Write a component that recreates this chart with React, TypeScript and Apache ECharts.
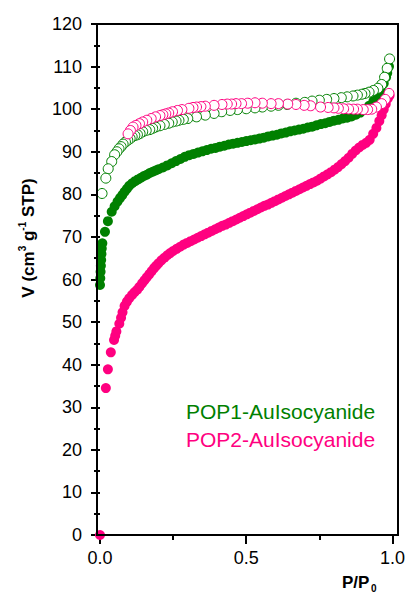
import React, { useEffect, useRef } from 'react';
import * as echarts from 'echarts';

const GREEN = '#008000';
const PINK = '#ff0080';
const FONT = '"Liberation Sans", Arial, sans-serif';

// POP1-AuIsocyanide adsorption (filled)
const pop1AdsP = [0.000, 0.001, 0.002, 0.003, 0.004, 0.005, 0.006, 0.008, 0.017, 0.027, 0.040, 0.050, 0.060, 0.068, 0.076, 0.084, 0.092, 0.100, 0.110, 0.120, 0.130, 0.140, 0.150, 0.160, 0.170, 0.180, 0.190, 0.200, 0.215, 0.230, 0.245, 0.260, 0.275, 0.290, 0.305, 0.320, 0.335, 0.350, 0.365, 0.380, 0.395, 0.410, 0.425, 0.440, 0.455, 0.470, 0.485, 0.500, 0.515, 0.530, 0.545, 0.560, 0.575, 0.590, 0.605, 0.620, 0.635, 0.650, 0.665, 0.680, 0.695, 0.710, 0.725, 0.740, 0.755, 0.770, 0.785, 0.800, 0.815, 0.830, 0.845, 0.860, 0.875, 0.890, 0.905, 0.920, 0.935, 0.950, 0.960, 0.970, 0.978, 0.982, 0.988];
const pop1AdsV = [58.7, 60.3, 61.8, 63.2, 64.6, 66.0, 67.3, 68.5, 71.2, 73.7, 75.9, 77.2, 78.3, 79.1, 79.8, 80.6, 81.3, 82.0, 82.6, 83.1, 83.5, 83.9, 84.3, 84.6, 85.0, 85.3, 85.6, 85.9, 86.3, 86.8, 87.3, 87.8, 88.3, 88.8, 89.2, 89.5, 89.8, 90.1, 90.4, 90.7, 90.9, 91.2, 91.4, 91.7, 91.9, 92.1, 92.3, 92.5, 92.7, 92.9, 93.1, 93.3, 93.6, 93.8, 94.0, 94.3, 94.5, 94.8, 95.0, 95.2, 95.4, 95.7, 95.9, 96.2, 96.5, 96.7, 97.0, 97.3, 97.5, 97.8, 98.0, 98.3, 98.7, 99.2, 99.9, 100.8, 101.9, 103.2, 104.5, 106.0, 107.5, 108.5, 110.0];

// POP1-AuIsocyanide desorption (open)
const pop1DesP = [0.990, 0.982, 0.973, 0.963, 0.950, 0.935, 0.920, 0.906, 0.895, 0.880, 0.865, 0.845, 0.825, 0.800, 0.775, 0.750, 0.725, 0.700, 0.670, 0.640, 0.610, 0.585, 0.555, 0.530, 0.500, 0.470, 0.445, 0.416, 0.390, 0.360, 0.330, 0.300, 0.285, 0.270, 0.260, 0.247, 0.235, 0.220, 0.205, 0.190, 0.180, 0.170, 0.158, 0.146, 0.137, 0.128, 0.119, 0.110, 0.103, 0.095, 0.087, 0.079, 0.072, 0.065, 0.058, 0.050, 0.040, 0.028, 0.020, 0.007];
const pop1DesV = [111.8, 109.6, 107.5, 105.8, 104.9, 104.4, 104.0, 103.7, 103.5, 103.3, 103.1, 102.9, 102.7, 102.5, 102.3, 102.1, 101.9, 101.6, 101.4, 101.1, 100.9, 100.7, 100.5, 100.3, 100.1, 99.9, 99.7, 99.4, 99.0, 98.6, 98.2, 97.8, 97.6, 97.4, 97.2, 97.0, 96.7, 96.4, 96.1, 95.8, 95.5, 95.2, 95.0, 94.7, 94.3, 94.0, 93.8, 93.5, 93.1, 92.7, 92.3, 91.8, 91.2, 90.7, 90.0, 89.3, 87.7, 86.0, 83.8, 80.2];

// POP2-AuIsocyanide adsorption (filled)
const pop2AdsP = [0.000, 0.020, 0.027, 0.037, 0.048, 0.052, 0.056, 0.066, 0.072, 0.077, 0.084, 0.092, 0.100, 0.110, 0.118, 0.127, 0.135, 0.144, 0.152, 0.160, 0.168, 0.176, 0.184, 0.192, 0.200, 0.210, 0.220, 0.230, 0.240, 0.250, 0.262, 0.274, 0.286, 0.298, 0.310, 0.322, 0.334, 0.346, 0.358, 0.370, 0.382, 0.394, 0.406, 0.418, 0.430, 0.442, 0.454, 0.466, 0.478, 0.490, 0.502, 0.514, 0.526, 0.538, 0.550, 0.562, 0.574, 0.586, 0.598, 0.610, 0.622, 0.634, 0.646, 0.658, 0.670, 0.682, 0.694, 0.706, 0.718, 0.730, 0.742, 0.754, 0.766, 0.778, 0.790, 0.802, 0.814, 0.826, 0.838, 0.850, 0.862, 0.874, 0.886, 0.898, 0.910, 0.922, 0.934, 0.945, 0.955, 0.963, 0.970, 0.977, 0.984, 0.990];
const pop2AdsV = [0.0, 34.5, 38.9, 42.9, 45.8, 46.8, 47.8, 49.6, 51.0, 52.3, 53.8, 54.8, 55.6, 56.4, 57.0, 57.6, 58.3, 59.1, 59.8, 60.5, 61.2, 61.9, 62.6, 63.2, 63.8, 64.5, 65.1, 65.7, 66.2, 66.7, 67.2, 67.7, 68.2, 68.6, 69.0, 69.4, 69.8, 70.2, 70.6, 71.0, 71.4, 71.8, 72.2, 72.6, 72.9, 73.3, 73.7, 74.1, 74.5, 74.9, 75.3, 75.7, 76.1, 76.5, 76.9, 77.3, 77.6, 78.0, 78.4, 78.8, 79.2, 79.6, 80.0, 80.4, 80.8, 81.2, 81.6, 82.0, 82.4, 82.8, 83.2, 83.7, 84.2, 84.7, 85.2, 85.8, 86.4, 87.1, 87.8, 88.6, 89.5, 90.3, 91.0, 91.6, 92.1, 92.8, 94.2, 95.6, 97.2, 98.6, 99.9, 101.2, 102.5, 103.2];

// POP2-AuIsocyanide desorption (open)
const pop2DesP = [0.988, 0.975, 0.963, 0.945, 0.929, 0.915, 0.900, 0.880, 0.867, 0.850, 0.833, 0.815, 0.800, 0.780, 0.754, 0.720, 0.698, 0.670, 0.642, 0.610, 0.585, 0.555, 0.530, 0.505, 0.484, 0.465, 0.450, 0.435, 0.417, 0.390, 0.360, 0.345, 0.330, 0.318, 0.304, 0.280, 0.265, 0.248, 0.235, 0.225, 0.215, 0.205, 0.190, 0.175, 0.160, 0.146, 0.135, 0.123, 0.113, 0.104, 0.096];
const pop2DesV = [103.7, 102.3, 101.3, 100.5, 100.0, 99.9, 99.9, 100.0, 100.0, 100.05, 100.1, 100.2, 100.3, 100.4, 100.5, 100.8, 100.9, 101.1, 101.2, 101.3, 101.3, 101.4, 101.5, 101.4, 101.3, 101.3, 101.2, 101.2, 101.1, 100.9, 100.7, 100.6, 100.5, 100.4, 100.2, 99.9, 99.7, 99.4, 99.1, 98.9, 98.7, 98.5, 98.2, 97.8, 97.4, 97.0, 96.6, 96.2, 95.8, 95.0, 94.2];

const xTickLabels = ['0.0', '0.5', '1.0'];
const legendLabels = ['POP1-AuIsocyanide', 'POP2-AuIsocyanide'];

const zip = (p: number[], v: number[]) => p.map((x, i) => [x, v[i]]);

export default function App() {
  const ref = useRef<HTMLDivElement>(null);
  useEffect(() => {
    const chart = echarts.init(ref.current!, null, { renderer: 'svg' });
    const filled = (name: string, color: string, data: number[][]) => ({
      name, type: 'scatter', data, symbol: 'circle', symbolSize: 10, clip: false,
      itemStyle: { color, opacity: 1 },
    });
    const open = (name: string, color: string, data: number[][]) => ({
      name, type: 'scatter', data, symbol: 'circle', symbolSize: 10, clip: false,
      itemStyle: { color: '#ffffff', borderColor: color, borderWidth: 1, opacity: 1 },
    });
    chart.setOption({
      animation: false,
      backgroundColor: '#ffffff',
      grid: { left: 100, right: 12, top: 24, bottom: 58, containLabel: false },
      xAxis: {
        type: 'value', min: 0, max: 1, interval: 0.5,
        axisLine: { show: false },
        splitLine: { show: false },
        axisTick: { show: true, inside: false, length: 9, lineStyle: { color: '#000', width: 2 } },
        minorTick: { show: true, splitNumber: 2, length: 5, lineStyle: { color: '#000', width: 2 } },
        axisLabel: {
          margin: 14, color: '#000', fontSize: 18, fontFamily: FONT,
          formatter: (v: number) => xTickLabels[Math.round(v * 2)] ?? '',
        },
      },
      yAxis: {
        type: 'value', min: 0, max: 120, interval: 10, offset: 3,
        axisLine: { show: false },
        splitLine: { show: false },
        axisTick: { show: true, inside: false, length: 9, lineStyle: { color: '#000', width: 2 } },
        minorTick: { show: true, splitNumber: 2, length: 6, lineStyle: { color: '#000', width: 2 } },
        axisLabel: { margin: 15, color: '#000', fontSize: 18, fontFamily: FONT },
      },
      series: [
        filled(legendLabels[0] + ' ads', GREEN, zip(pop1AdsP, pop1AdsV)),
        filled(legendLabels[1] + ' ads', PINK, zip(pop2AdsP, pop2AdsV)),
        open(legendLabels[0] + ' des', GREEN, zip(pop1DesP, pop1DesV)),
        open(legendLabels[1] + ' des', PINK, zip(pop2DesP, pop2DesV)),
      ],
      graphic: [
        {
          type: 'rect', z: 100, silent: true,
          shape: { x: 97, y: 24, width: 301, height: 511 },
          style: { fill: 'none', stroke: '#000', lineWidth: 2 },
        },
        {
          type: 'text', x: 27, y: 238, rotation: Math.PI / 2, z: 100,
          style: {
            text: '{b|V (cm}{s|3}{b| g}{s|-1}{b| STP)}',
            align: 'center', verticalAlign: 'middle',
            rich: {
              b: { fontSize: 17, fontWeight: 'bold', fontFamily: FONT, fill: '#000', lineHeight: 20, verticalAlign: 'bottom' },
              s: { fontSize: 10, fontWeight: 'bold', fontFamily: FONT, fill: '#000', lineHeight: 10, verticalAlign: 'top' },
            },
          },
        },
        {
          type: 'text', x: 342, y: 582, z: 100,
          style: { text: 'P/P', fontSize: 17, fontWeight: 'bold', fontFamily: FONT, fill: '#000', align: 'left', verticalAlign: 'middle' },
        },
        {
          type: 'text', x: 371, y: 583, z: 100,
          style: { text: '0', fontSize: 10, fontWeight: 'bold', fontFamily: FONT, fill: '#000', align: 'left', verticalAlign: 'top' },
        },
        {
          type: 'text', x: 186, y: 411, z: 100,
          style: { text: legendLabels[0], fontSize: 21, fontFamily: FONT, fill: GREEN, align: 'left', verticalAlign: 'middle' },
        },
        {
          type: 'text', x: 186, y: 439, z: 100,
          style: { text: legendLabels[1], fontSize: 21, fontFamily: FONT, fill: PINK, align: 'left', verticalAlign: 'middle' },
        },
      ],
    });
    return () => chart.dispose();
  }, []);
  return <div ref={ref} style={{ position: 'fixed', left: 0, top: 0, width: 408, height: 593 }} />;
}
